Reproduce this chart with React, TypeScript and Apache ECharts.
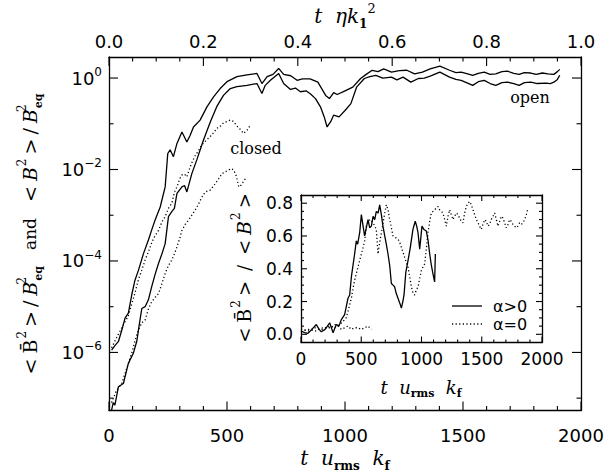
import React, { useEffect, useRef } from "react";
import * as echarts from "echarts";

// ---------- main panel data (t u_rms k_f, log10 of energy / B_eq^2) ----------
const openTotalT = [11, 25, 40, 55, 68, 82, 96, 110, 125, 146, 167, 181, 195, 217, 238, 249, 259, 273, 288, 309, 330, 344, 358, 386, 415, 443, 471, 500, 542, 585, 627, 648, 670, 695, 719, 740, 770, 797, 820, 852, 885, 918, 934, 952, 967, 1000, 1033, 1066, 1090, 1115, 1140, 1164, 1197, 1230, 1262, 1295, 1328, 1361, 1402, 1443, 1470, 1492, 1520, 1541, 1565, 1590, 1615, 1639, 1665, 1689, 1715, 1738, 1760, 1787, 1810, 1836, 1860, 1885, 1900, 1910];
const openTotalLog = [-5.95, -5.85, -5.76, -5.5, -5.25, -5.14, -4.75, -4.42, -4.2, -3.84, -3.54, -3.32, -3.11, -2.82, -2.38, -1.65, -1.57, -1.72, -1.43, -1.18, -1.4, -1.25, -1.07, -0.92, -0.63, -0.41, -0.23, -0.08, 0.03, 0.07, 0.1, -0.12, 0.03, 0.08, 0.21, 0.08, 0.05, -0.05, -0.02, -0.02, -0.09, -0.38, -0.45, -0.32, -0.36, -0.28, -0.2, -0.01, 0.08, 0.17, 0.14, 0.2, 0.13, 0.16, 0.17, 0.09, 0.13, 0.2, 0.26, 0.17, 0.12, 0.13, 0.09, 0.06, 0.1, 0.13, 0.08, 0.09, 0.14, 0.15, 0.1, 0.08, 0.12, 0.11, 0.08, 0.11, 0.09, 0.08, 0.14, 0.19];

const openMeanT = [11, 18, 25, 40, 61, 82, 103, 118, 125, 139, 153, 167, 181, 195, 210, 224, 238, 252, 266, 277, 288, 309, 320, 330, 351, 372, 400, 430, 457, 485, 514, 542, 585, 627, 648, 662, 684, 719, 740, 769, 790, 811, 835, 854, 875, 896, 912, 924, 940, 952, 975, 1000, 1025, 1049, 1082, 1105, 1131, 1160, 1197, 1220, 1246, 1279, 1311, 1336, 1361, 1402, 1443, 1470, 1492, 1515, 1541, 1565, 1590, 1615, 1639, 1665, 1689, 1715, 1738, 1760, 1787, 1815, 1852, 1870, 1885, 1900, 1910];
const openMeanLog = [-7.26, -7.1, -7.15, -6.75, -6.68, -6.24, -6.02, -5.75, -5.5, -5.04, -5.0, -4.85, -4.56, -4.3, -4.05, -3.85, -3.62, -3.03, -2.92, -2.85, -2.52, -2.38, -2.35, -2.49, -2.09, -1.79, -1.36, -0.95, -0.62, -0.38, -0.23, -0.19, -0.16, -0.12, -0.34, -0.16, -0.05, 0.1, -0.12, -0.25, -0.22, -0.3, -0.28, -0.35, -0.45, -0.63, -0.85, -1.07, -0.95, -0.81, -0.85, -0.71, -0.56, -0.2, -0.01, 0.03, 0.06, 0.0, 0.02, -0.04, 0.02, -0.09, -0.01, 0.0, 0.04, 0.13, 0.02, -0.03, -0.05, -0.1, -0.16, -0.08, -0.05, -0.12, -0.16, -0.1, -0.09, -0.12, -0.16, -0.1, -0.09, -0.12, -0.11, -0.12, -0.09, -0.03, 0.06];

const closedTotalT = [11, 25, 40, 60, 82, 96, 110, 125, 139, 153, 167, 181, 195, 210, 224, 238, 252, 266, 277, 288, 300, 309, 320, 330, 340, 351, 365, 380, 395, 408, 425, 443, 457, 471, 485, 500, 514, 528, 542, 556, 570, 585, 599];
const closedTotalLog = [-5.9, -5.75, -5.6, -5.4, -5.2, -4.95, -4.7, -4.4, -4.2, -3.98, -3.8, -3.6, -3.45, -3.33, -3.15, -3.03, -2.85, -2.74, -2.5, -2.38, -2.2, -2.12, -2.1, -2.16, -2.0, -1.85, -1.7, -1.58, -1.45, -1.38, -1.3, -1.2, -1.1, -1.06, -0.98, -0.95, -0.92, -0.95, -1.05, -1.12, -1.21, -1.14, -1.03];

const closedMeanT = [11, 30, 54, 75, 96, 110, 125, 139, 153, 167, 181, 195, 210, 224, 238, 252, 266, 277, 288, 300, 309, 323, 337, 351, 365, 380, 394, 408, 429, 440, 450, 465, 479, 493, 507, 518, 528, 540, 550, 557, 564, 578];
const closedMeanLog = [-7.1, -6.85, -6.68, -6.35, -6.02, -5.75, -5.51, -5.35, -5.29, -5.05, -4.89, -4.8, -4.71, -4.5, -4.27, -4.1, -3.98, -3.85, -3.69, -3.5, -3.33, -3.2, -3.11, -3.0, -2.89, -2.75, -2.6, -2.49, -2.45, -2.38, -2.31, -2.2, -2.09, -2.05, -2.01, -1.98, -2.01, -2.15, -2.38, -2.36, -2.31, -2.2];

// ---------- inset data (<Bbar^2>/<B^2>) ----------
const alphaPosT = [0, 30, 58, 90, 127, 150, 169, 200, 238, 266, 293, 315, 335, 362, 390, 404, 418, 445, 459, 470, 487, 501, 515, 528, 556, 570, 584, 598, 612, 625, 640, 653, 667, 680, 695, 708, 722, 736, 750, 764, 777, 790, 805, 820, 833, 845, 855, 870, 888, 905, 929, 948, 960, 971, 985, 1004, 1020, 1040, 1055, 1068, 1082, 1095, 1109, 1115];
const alphaPosV = [0.02, 0.01, 0.006, 0.03, 0.06, 0.03, 0.016, 0.03, 0.07, 0.01, 0.06, 0.05, 0.09, 0.12, 0.22, 0.24, 0.35, 0.49, 0.57, 0.55, 0.62, 0.73, 0.66, 0.6, 0.7, 0.65, 0.66, 0.72, 0.7, 0.75, 0.74, 0.79, 0.73, 0.66, 0.6, 0.55, 0.49, 0.42, 0.31, 0.3, 0.29, 0.25, 0.22, 0.19, 0.16, 0.2, 0.24, 0.38, 0.45, 0.52, 0.64, 0.69, 0.66, 0.62, 0.52, 0.66, 0.64, 0.63, 0.57, 0.49, 0.42, 0.37, 0.32, 0.49];

const alphaZeroT = [0, 60, 120, 180, 240, 279, 321, 350, 375, 390, 404, 418, 432, 445, 459, 473, 487, 501, 515, 528, 542, 556, 570, 584, 598, 612, 625, 639, 653, 667, 681, 695, 708, 722, 736, 750, 764, 785, 805, 820, 833, 847, 860, 874, 888, 902, 916, 930, 943, 957, 971, 985, 999, 1012, 1026, 1040, 1054, 1068, 1081, 1095, 1109, 1123, 1137, 1150, 1164, 1178, 1192, 1206, 1220, 1234, 1247, 1261, 1275, 1289, 1303, 1316, 1330, 1344, 1358, 1372, 1386, 1400, 1413, 1427, 1441, 1455, 1469, 1482, 1496, 1510, 1524, 1538, 1551, 1565, 1579, 1593, 1607, 1621, 1635, 1649, 1662, 1676, 1690, 1704, 1718, 1731, 1745, 1759, 1773, 1787, 1800, 1814, 1828, 1842, 1856, 1870, 1884];
const alphaZeroV = [0.03, 0.02, 0.04, 0.03, 0.05, 0.04, 0.06, 0.08, 0.1, 0.14, 0.18, 0.22, 0.28, 0.33, 0.37, 0.41, 0.45, 0.49, 0.53, 0.57, 0.66, 0.68, 0.7, 0.69, 0.68, 0.66, 0.64, 0.49, 0.56, 0.62, 0.68, 0.74, 0.79, 0.76, 0.7, 0.65, 0.6, 0.59, 0.58, 0.56, 0.53, 0.5, 0.47, 0.44, 0.41, 0.35, 0.29, 0.25, 0.24, 0.27, 0.29, 0.34, 0.39, 0.41, 0.43, 0.52, 0.62, 0.69, 0.74, 0.75, 0.76, 0.77, 0.78, 0.76, 0.75, 0.74, 0.7, 0.66, 0.72, 0.76, 0.73, 0.7, 0.72, 0.74, 0.73, 0.71, 0.69, 0.68, 0.74, 0.78, 0.8, 0.81, 0.79, 0.76, 0.73, 0.7, 0.68, 0.66, 0.64, 0.67, 0.7, 0.69, 0.66, 0.67, 0.7, 0.72, 0.74, 0.7, 0.66, 0.69, 0.72, 0.71, 0.68, 0.65, 0.67, 0.7, 0.69, 0.67, 0.66, 0.65, 0.66, 0.68, 0.67, 0.68, 0.7, 0.73, 0.77];

const alphaZeroClosedT = [0, 60, 120, 180, 252, 280, 307, 335, 362, 390, 418, 445, 473, 500, 528, 556, 570, 584];
const alphaZeroClosedV = [0.02, 0.03, 0.02, 0.04, 0.04, 0.06, 0.05, 0.03, 0.04, 0.05, 0.03, 0.04, 0.04, 0.03, 0.04, 0.05, 0.04, 0.03];

// ---------- axis ranges and tick values ----------
const mainXTicks = { min: 0, max: 2000, interval: 500 };
const topXTicks = { min: 0, max: 1, interval: 0.2 };
const mainLogRange = { min: -7.27, max: 0.46 };
const insetYRange = { min: -0.05, max: 0.85 };

const xMajorTicks = [0, 500, 1000, 1500, 2000];
const xMinorTicks = [100, 200, 300, 400, 600, 700, 800, 900, 1100, 1200, 1300, 1400, 1600, 1700, 1800, 1900];
const topMajorTicks = [0, 400, 800, 1200, 1600, 2000]; // 0.0 .. 1.0 of t eta k1^2, in t u k_f units
const topMinorTicks = [100, 200, 300, 500, 600, 700, 900, 1000, 1100, 1300, 1400, 1500, 1700, 1800, 1900];
const logMajorTicks = [-6, -4, -2, 0];
const logMinorTicks = [-7, -5, -3, -1];
const insetYMajorTicks = [0, 0.2, 0.4, 0.6, 0.8];
const insetYMinorTicks = [0.05, 0.1, 0.15, 0.25, 0.3, 0.35, 0.45, 0.5, 0.55, 0.65, 0.7, 0.75];

const BLACK = "#000";
const SANS = "DejaVu Sans";
const SERIF = "DejaVu Serif";

const zip = (t: number[], v: number[]) => t.map((x, i) => [x, v[i]]);

function line() {
  return { show: true, onZero: false, lineStyle: { color: BLACK, width: 1.3 } };
}

function xAx(gridIndex: number, pos: "top" | "bottom", range: any, opts: any) {
  return {
    type: "value",
    gridIndex,
    position: pos,
    ...range,
    axisLine: line(),
    splitLine: { show: false },
    axisTick: { show: false },
    minorTick: { show: false },
    axisLabel: opts.label
      ? { show: true, color: BLACK, fontFamily: SANS, fontSize: opts.fs, margin: opts.margin, formatter: opts.fmt }
      : { show: false },
  };
}

function yAx(gridIndex: number, pos: "left" | "right", range: any, opts: any) {
  return {
    type: "value",
    gridIndex,
    position: pos,
    ...range,
    axisLine: line(),
    splitLine: { show: false },
    axisTick: { show: false },
    minorTick: { show: false },
    axisLabel: opts.label
      ? {
          show: true,
          color: BLACK,
          fontFamily: SANS,
          fontSize: opts.fs,
          margin: opts.margin,
          showMinLabel: false,
          showMaxLabel: false,
          formatter: opts.fmt,
          rich: opts.rich,
        }
      : { show: false },
  };
}

const solid = { color: BLACK, width: 1.3, type: "solid" };
const dotted = { color: BLACK, width: 1.3, type: [1.2, 2.4] };

function lineSeries(data: number[][], style: any, xi: number, yi: number) {
  return {
    type: "line",
    data,
    xAxisIndex: xi,
    yAxisIndex: yi,
    showSymbol: false,
    symbol: "none",
    silent: true,
    lineStyle: style,
    clip: true,
  };
}

const tRich = {
  i: { fontFamily: SERIF, fontStyle: "italic", fontSize: 20, lineHeight: 28, fill: BLACK },
  u: { fontFamily: SERIF, fontWeight: "bold", fontSize: 12, lineHeight: 12, verticalAlign: "bottom", fill: BLACK },
  s: { fontFamily: SERIF, fontSize: 13, lineHeight: 12, verticalAlign: "top", fill: BLACK },
};

const insetTRich = {
  i: { fontFamily: SERIF, fontStyle: "italic", fontSize: 18, lineHeight: 24, fill: BLACK },
  u: { fontFamily: SERIF, fontWeight: "bold", fontSize: 11, lineHeight: 11, verticalAlign: "bottom", fill: BLACK },
};

const yRich = {
  n: { fontFamily: SERIF, fontSize: 19, lineHeight: 28, fill: BLACK, padding: [0, 2, 0, 2] },
  b: { fontFamily: SERIF, fontSize: 19, lineHeight: 28, fill: BLACK, padding: [0, 1, 0, 3] },
  i: { fontFamily: SERIF, fontStyle: "italic", fontSize: 19, lineHeight: 28, fill: BLACK, padding: [0, 1, 0, 3] },
  s: { fontFamily: SERIF, fontSize: 12, lineHeight: 10, verticalAlign: "top", fill: BLACK, padding: [0, 2, 0, 0] },
  s0: { fontFamily: SERIF, fontSize: 12, lineHeight: 10, verticalAlign: "top", fill: BLACK, width: 0 },
  u: { fontFamily: SERIF, fontWeight: "bold", fontSize: 11, lineHeight: 11, verticalAlign: "bottom", fill: BLACK, padding: [0, 2, 0, 0] },
  a: { fontFamily: SERIF, fontSize: 17, lineHeight: 28, fill: BLACK, padding: [0, 14, 0, 14] },
};

const mainRect = { left: 109, top: 57, width: 472, height: 353.5 };
const insetRect = { left: 301, top: 195, width: 241, height: 147.5 };

const baseGraphics: any[] = [
  { type: "text", x: 345, y: 16, style: { text: "{i|t  \u03b7k}{u|1}{s|2}", rich: tRich, align: "center", verticalAlign: "middle" } },
  { type: "text", x: 345, y: 458, style: { text: "{i|t  u}{u|rms}{i|  k}{u|f}", rich: tRich, align: "center", verticalAlign: "middle" } },
  { type: "text", x: 421, y: 387, style: { text: "{i|t  u}{u|rms}{i|  k}{u|f}", rich: insetTRich, align: "center", verticalAlign: "middle" } },
  {
    type: "text",
    x: 30,
    y: 234,
    rotation: Math.PI / 2,
    style: {
      text: "{n|<}{b|B\u0304}{s|2}{n|>}{n|/}{i|B}{s0|2}{u|eq}{a|and}{n|<}{i|B}{s|2}{n|>}{n|/}{i|B}{s0|2}{u|eq}",
      rich: yRich,
      align: "center",
      verticalAlign: "middle",
    },
  },
  {
    type: "text",
    x: 244,
    y: 268,
    rotation: Math.PI / 2,
    style: {
      text: "{n|<}{b|B\u0304}{s|2}{n|>}{a|/}{n|<}{i|B}{s|2}{n|>}",
      rich: { ...yRich, n: { ...yRich.n, fontSize: 18 }, a: { ...yRich.a, fontSize: 18, padding: [0, 8, 0, 8] } },
      align: "center",
      verticalAlign: "middle",
    },
  },
  { type: "text", x: 530, y: 97, style: { text: "open", fontFamily: SERIF, fontSize: 16, fill: BLACK, align: "center", verticalAlign: "middle" } },
  { type: "text", x: 256, y: 148, style: { text: "closed", fontFamily: SERIF, fontSize: 16, fill: BLACK, align: "center", verticalAlign: "middle" } },
  { type: "line", shape: { x1: 452, y1: 306, x2: 482, y2: 306 }, style: { stroke: BLACK, lineWidth: 1.3 } },
  { type: "line", shape: { x1: 452, y1: 324, x2: 482, y2: 324 }, style: { stroke: BLACK, lineWidth: 1.3, lineDash: [1.2, 2.4] } },
  { type: "text", x: 493, y: 306, style: { text: "\u03b1>0", fontFamily: SANS, fontSize: 16, fill: BLACK, align: "left", verticalAlign: "middle" } },
  { type: "text", x: 493, y: 324, style: { text: "\u03b1=0", fontFamily: SANS, fontSize: 16, fill: BLACK, align: "left", verticalAlign: "middle" } },
];

export default function App() {
  const ref = useRef<HTMLDivElement>(null);

  useEffect(() => {
    if (!ref.current) return;
    const chart = echarts.init(ref.current, null, { renderer: "svg" });

    const option: any = {
      animation: false,
      backgroundColor: "#fff",
      grid: [
        { ...mainRect, show: false, outerBoundsMode: "none", containLabel: false },
        { ...mainRect, show: false, outerBoundsMode: "none", containLabel: false },
        { ...insetRect, show: true, backgroundColor: "#fff", borderWidth: 0, outerBoundsMode: "none", containLabel: false },
        { ...insetRect, show: false, outerBoundsMode: "none", containLabel: false },
      ],
      xAxis: [
        xAx(0, "bottom", mainXTicks, { label: true, fs: 18, margin: 16, fmt: (v: number) => String(v) }),
        xAx(1, "top", topXTicks, { label: true, fs: 18, margin: 7, fmt: (v: number) => v.toFixed(1) }),
        xAx(2, "bottom", mainXTicks, { label: true, fs: 17, margin: 8, fmt: (v: number) => String(v) }),
        xAx(3, "top", mainXTicks, { label: false }),
      ],
      yAxis: [
        yAx(0, "left", mainLogRange, {
          label: true,
          fs: 18,
          margin: 7,
          fmt: (v: number) => {
            const n = Math.round(v);
            return `{b|10}{s|${n < 0 ? "\u2212" : ""}${Math.abs(n)}}`;
          },
          rich: {
            b: { fontFamily: SANS, fontSize: 18, lineHeight: 24, color: BLACK },
            s: { fontFamily: SANS, fontSize: 12, lineHeight: 10, verticalAlign: "top", color: BLACK },
          },
        }),
        yAx(1, "right", mainLogRange, { label: false }),
        yAx(2, "left", insetYRange, { label: true, fs: 17, margin: 8, fmt: (v: number) => v.toFixed(1) }),
        yAx(3, "right", insetYRange, { label: false }),
      ],
      series: [
        lineSeries(zip(openTotalT, openTotalLog), solid, 0, 0),
        lineSeries(zip(openMeanT, openMeanLog), solid, 0, 0),
        lineSeries(zip(closedTotalT, closedTotalLog), dotted, 0, 0),
        lineSeries(zip(closedMeanT, closedMeanLog), dotted, 0, 0),
        lineSeries(zip(alphaZeroClosedT, alphaZeroClosedV), dotted, 2, 2),
        lineSeries(zip(alphaZeroT, alphaZeroV), dotted, 2, 2),
        lineSeries(zip(alphaPosT, alphaPosV), solid, 2, 2),
      ],
      graphic: baseGraphics,
    };

    chart.setOption(option);

    // Tick marks, placed through the library's own coordinate conversion.
    const ticks: any[] = [];
    const px = (grid: number, x: number, y: number): number[] => {
      const p = chart.convertToPixel({ gridIndex: grid } as any, [x, y]) as any;
      return Array.isArray(p) ? p : [NaN, NaN];
    };
    const seg = (x1: number, y1: number, x2: number, y2: number) => {
      if ([x1, y1, x2, y2].some((v) => !isFinite(v))) return;
      ticks.push({ type: "line", z: 100, silent: true, shape: { x1, y1, x2, y2 }, style: { stroke: BLACK, lineWidth: 1.1 } });
    };
    const addTicks = (
      grid: number, yr: { min: number; max: number },
      bMaj: number[], bMin: number[], tMaj: number[], tMin: number[], yMaj: number[], yMin: number[],
      maj: number, mnr: number
    ) => {
      const xb = (v: number, len: number) => {
        const p = px(grid, v, yr.min);
        seg(p[0], p[1], p[0], p[1] - len);
      };
      const xt = (v: number, len: number) => {
        const p = px(grid, v, yr.max);
        seg(p[0], p[1], p[0], p[1] + len);
      };
      const yl = (v: number, len: number) => {
        const p = px(grid, mainXTicks.min, v);
        seg(p[0], p[1], p[0] + len, p[1]);
      };
      const yrgt = (v: number, len: number) => {
        const p = px(grid, mainXTicks.max, v);
        seg(p[0], p[1], p[0] - len, p[1]);
      };
      bMaj.forEach((v) => xb(v, maj));
      bMin.forEach((v) => xb(v, mnr));
      tMaj.forEach((v) => xt(v, maj));
      tMin.forEach((v) => xt(v, mnr));
      yMaj.forEach((v) => { yl(v, maj); yrgt(v, maj); });
      yMin.forEach((v) => { yl(v, mnr); yrgt(v, mnr); });
    };
    addTicks(0, mainLogRange, xMajorTicks, xMinorTicks, topMajorTicks, topMinorTicks, logMajorTicks, logMinorTicks, 9, 4.5);
    addTicks(2, insetYRange, xMajorTicks, xMinorTicks, xMajorTicks, xMinorTicks, insetYMajorTicks, insetYMinorTicks, 6, 3);

    chart.setOption({ graphic: [...baseGraphics, ...ticks] });

    return () => chart.dispose();
  }, []);

  return (
    <div
      ref={ref}
      style={{ position: "fixed", left: 0, top: 0, width: 609, height: 472, background: "#fff" }}
    />
  );
}
